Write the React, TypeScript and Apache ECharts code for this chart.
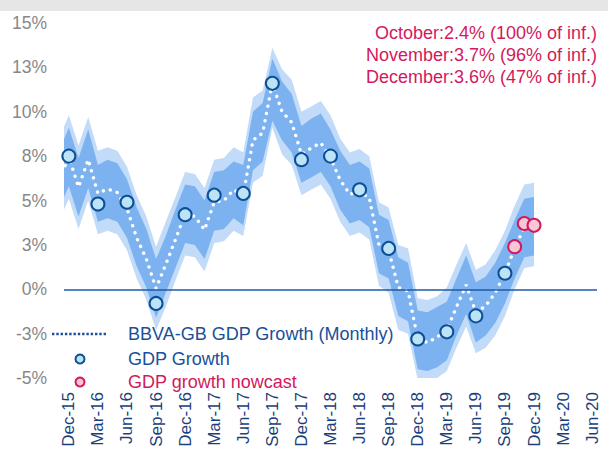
import React, { useEffect, useRef } from "react";
import * as echarts from "echarts";

// ---- Data ----
const monthLabels = [
  "Nov-15", "Dec-15",
  "Jan-16", "Feb-16", "Mar-16", "Apr-16", "May-16", "Jun-16", "Jul-16", "Aug-16", "Sep-16", "Oct-16", "Nov-16", "Dec-16",
  "Jan-17", "Feb-17", "Mar-17", "Apr-17", "May-17", "Jun-17", "Jul-17", "Aug-17", "Sep-17", "Oct-17", "Nov-17", "Dec-17",
  "Jan-18", "Feb-18", "Mar-18", "Apr-18", "May-18", "Jun-18", "Jul-18", "Aug-18", "Sep-18", "Oct-18", "Nov-18", "Dec-18",
  "Jan-19", "Feb-19", "Mar-19", "Apr-19", "May-19", "Jun-19", "Jul-19", "Aug-19", "Sep-19", "Oct-19", "Nov-19", "Dec-19",
];

const monthlyGrowth = [
  6.2, 7.45,
  5.76, 7.3, 5.4, 5.65, 5.45, 4.55, 2.9, 1.7, 0.05, 1.4, 2.8, 4.24,
  4.1, 3.35, 4.9, 5.0, 5.6, 5.3, 8.4, 8.8, 11.6, 10.0, 9.4, 7.6,
  7.95, 8.25, 7.4, 6.15, 5.35, 5.5, 5.15, 2.5, 2.2, 0.1, -0.1, -2.8,
  -3.0, -2.7, -2.3, -1.0, 0.25, -1.3, -0.95, -0.2, 0.9, 2.3, 3.5, 3.6,
];

const innerHigh = [
  7.8, 9.1,
  7.4, 9.0, 7.0, 7.3, 7.1, 6.2, 4.6, 3.4, 1.7, 3.0, 4.5, 5.9,
  5.8, 5.0, 6.6, 6.7, 7.2, 7.0, 10.0, 10.5, 13.0, 11.7, 11.0, 9.2,
  9.6, 9.9, 9.0, 7.8, 7.0, 7.2, 6.8, 4.2, 3.9, 1.8, 1.5, -1.2,
  -1.3, -1.0, -0.7, 0.6, 1.9, 0.4, 0.7, 1.5, 2.6, 3.9, 5.1, 5.2,
];

const innerLow = [
  4.6, 5.8,
  4.1, 5.7, 3.8, 4.0, 3.8, 2.9, 1.3, 0.1, -1.6, -0.2, 1.2, 2.6,
  2.5, 1.7, 3.3, 3.4, 4.0, 3.6, 6.7, 7.2, 9.5, 8.4, 7.7, 6.0,
  6.3, 6.6, 5.8, 4.5, 3.7, 3.9, 3.5, 0.9, 0.6, -1.5, -1.8, -4.5,
  -4.6, -4.4, -4.0, -2.6, -1.4, -3.0, -2.6, -1.9, -0.8, 0.6, 1.8, 1.9,
];

const outerHigh = [
  8.5, 9.8,
  8.1, 9.7, 7.8, 8.0, 7.8, 6.9, 5.3, 4.1, 2.4, 3.8, 5.2, 6.6,
  6.5, 5.7, 7.3, 7.4, 8.0, 7.7, 10.8, 11.2, 13.6, 12.4, 11.8, 10.0,
  10.3, 10.6, 9.8, 8.5, 7.7, 7.9, 7.5, 4.9, 4.6, 2.5, 2.3, -0.5,
  -0.6, -0.4, 0.1, 1.4, 2.6, 1.1, 1.4, 2.2, 3.3, 4.7, 5.9, 6.0,
];

const outerLow = [
  3.9, 5.1,
  3.4, 5.0, 3.1, 3.3, 3.1, 2.2, 0.6, -0.6, -2.3, -1.0, 0.5, 1.9,
  1.8, 1.0, 2.6, 2.7, 3.3, 3.0, 6.0, 6.4, 9.1, 7.6, 7.0, 5.3,
  5.6, 5.9, 5.1, 3.8, 3.0, 3.2, 2.8, 0.2, -0.2, -2.3, -2.5, -5.1,
  -5.3, -5.0, -4.6, -3.3, -2.1, -3.6, -3.3, -2.6, -1.5, 0.0, 1.2, 1.3,
];

const gdpQuarters = [
  "Dec-15", "Mar-16", "Jun-16", "Sep-16", "Dec-16", "Mar-17", "Jun-17", "Sep-17",
  "Dec-17", "Mar-18", "Jun-18", "Sep-18", "Dec-18", "Mar-19", "Jun-19", "Sep-19",
];
const gdpGrowth = [7.5, 4.8, 4.9, -0.8, 4.2, 5.3, 5.4, 11.6, 7.3, 7.5, 5.6, 2.3, -2.8, -2.4, -1.5, 0.9];

const nowcastMonths = ["Oct-19", "Nov-19", "Dec-19"];
const nowcastGrowth = [2.4, 3.7, 3.6];

const xTickLabels = [
  "Dec-15", "Mar-16", "Jun-16", "Sep-16", "Dec-16", "Mar-17", "Jun-17", "Sep-17", "Dec-17", "Mar-18",
  "Jun-18", "Sep-18", "Dec-18", "Mar-19", "Jun-19", "Sep-19", "Dec-19", "Mar-20", "Jun-20",
];

const annotationLines = [
  "October:2.4% (100% of inf.)",
  "November:3.7% (96% of inf.)",
  "December:3.6% (47% of inf.)",
];

const legendNames = ["BBVA-GB GDP Growth (Monthly)", "GDP Growth", "GDP growth nowcast"];

// ---- helpers ----
const MONTHS = ["Jan", "Feb", "Mar", "Apr", "May", "Jun", "Jul", "Aug", "Sep", "Oct", "Nov", "Dec"];
function monthIndex(label: string): number {
  const [m, yy] = label.split("-");
  const year = 2000 + parseInt(yy, 10);
  return (year - 2015) * 12 + MONTHS.indexOf(m) - 11; // Dec-15 -> 0
}

const FONT = "'Liberation Sans', Arial, sans-serif";
const C_LIGHT_BAND = "#c1dbf8";
const C_DARK_BAND = "#7db2f1";
const C_NAVY = "#1a4f9a";
const C_AXIS_TEXT = "#1b3f7c";
const C_PINK = "#d2195c";
const C_GDP_FILL = "#bde3f6";
const C_GDP_BORDER = "#0c4f97";
const C_NOW_FILL = "#f8c7d7";

export default function App() {
  const ref = useRef<HTMLDivElement>(null);

  useEffect(() => {
    if (!ref.current) return;
    const chart = echarts.init(ref.current, undefined, { renderer: "svg" });

    const xs = monthLabels.map(monthIndex);
    const pair = (arr: number[]) => arr.map((v, i) => [xs[i], v]);

    const bandSeries = (name: string, hi: number[], lo: number[], fill: string, z: number) => ({
      type: "custom",
      name,
      silent: true,
      clip: true,
      z,
      data: [[xs[0], lo[0]]],
      renderItem: (params: any, api: any) => {
        const top = hi.map((v, i) => api.coord([xs[i], v]));
        const bot = lo.map((v, i) => api.coord([xs[i], v])).reverse();
        return {
          type: "polygon",
          shape: { points: top.concat(bot) },
          style: { fill, stroke: "none" },
        };
      },
    });

    const option: any = {
      animation: false,
      backgroundColor: "#ffffff",
      grid: { left: 64, right: 11, top: 23, bottom: 72, containLabel: false },
      xAxis: {
        type: "value",
        min: -0.5,
        max: 54.5,
        axisLine: { show: false },
        axisTick: { show: false },
        splitLine: { show: false },
        axisLabel: {
          customValues: xTickLabels.map(monthIndex),
          rotate: 90,
          margin: 14,
          color: C_AXIS_TEXT,
          fontSize: 17,
          fontFamily: FONT,
          formatter: (v: number) => {
            const i = xTickLabels.findIndex((l) => monthIndex(l) === Math.round(v));
            return i >= 0 ? xTickLabels[i] : "";
          },
        },
      },
      yAxis: {
        type: "value",
        min: -5,
        max: 15,
        interval: 2.5,
        axisLine: { show: false },
        axisTick: { show: false },
        splitLine: { show: false },
        axisLabel: {
          margin: 17,
          color: "#888888",
          fontSize: 17.5,
          fontFamily: FONT,
          formatter: (v: number) => `${Math.sign(v) * Math.round(Math.abs(v))}%`,
        },
      },
      series: [
        bandSeries("outerBand", outerHigh, outerLow, C_LIGHT_BAND, 1),
        bandSeries("innerBand", innerHigh, innerLow, C_DARK_BAND, 2),
        {
          type: "line",
          name: "zero",
          data: [[0, 0]],
          symbol: "none",
          showSymbol: false,
          lineStyle: { opacity: 0 },
          silent: true,
          z: 3,
          markLine: {
            silent: true,
            symbol: ["none", "none"],
            label: { show: false },
            lineStyle: { color: "#1f5aa6", width: 1.6, type: "solid" },
            data: [{ yAxis: 0 }],
          },
        },
        {
          type: "line",
          name: legendNames[0],
          data: pair(monthlyGrowth),
          showSymbol: false,
          symbol: "none",
          clip: true,
          lineStyle: { color: "#ffffff", width: 3.4, type: [0.1, 7.3], cap: "round" },
          z: 4,
        },
        {
          type: "scatter",
          name: legendNames[1],
          data: gdpQuarters.map((q, i) => [monthIndex(q), gdpGrowth[i]]),
          symbol: "circle",
          symbolSize: 13,
          itemStyle: { color: C_GDP_FILL, borderColor: C_GDP_BORDER, borderWidth: 2, opacity: 1 },
          z: 5,
        },
        {
          type: "scatter",
          name: legendNames[2],
          data: nowcastMonths.map((m, i) => [monthIndex(m), nowcastGrowth[i]]),
          symbol: "circle",
          symbolSize: 13,
          itemStyle: { color: C_NOW_FILL, borderColor: C_PINK, borderWidth: 2, opacity: 1 },
          z: 6,
        },
      ],
      graphic: [
        { type: "rect", shape: { x: 0, y: 0, width: 608, height: 11 }, style: { fill: "#e6e6e6" }, z: 0 },
        ...annotationLines.map((t, i) => ({
          type: "text",
          x: 597,
          y: 33 + i * 22,
          style: { text: t, fill: C_PINK, font: `18px ${FONT}`, align: "right", verticalAlign: "middle" },
          z: 10,
        })),
        {
          type: "line",
          shape: { x1: 52, y1: 334, x2: 106, y2: 334 },
          style: { stroke: C_NAVY, lineWidth: 2.6, lineDash: [2.4, 1.9] },
          z: 10,
        },
        {
          type: "circle",
          shape: { cx: 80, cy: 359, r: 4.5 },
          style: { fill: C_GDP_FILL, stroke: C_GDP_BORDER, lineWidth: 2 },
          z: 10,
        },
        {
          type: "circle",
          shape: { cx: 80, cy: 382, r: 4.5 },
          style: { fill: C_NOW_FILL, stroke: C_PINK, lineWidth: 2 },
          z: 10,
        },
        ...legendNames.map((t, i) => ({
          type: "text",
          x: 128,
          y: [334, 359, 382][i],
          style: {
            text: t,
            fill: i === 2 ? C_PINK : C_NAVY,
            font: `18px ${FONT}`,
            align: "left",
            verticalAlign: "middle",
          },
          z: 10,
        })),
      ],
    };

    chart.setOption(option);
    return () => chart.dispose();
  }, []);

  return (
    <div
      ref={ref}
      style={{ position: "fixed", left: 0, top: 0, width: 608, height: 450, background: "#fff" }}
    />
  );
}
